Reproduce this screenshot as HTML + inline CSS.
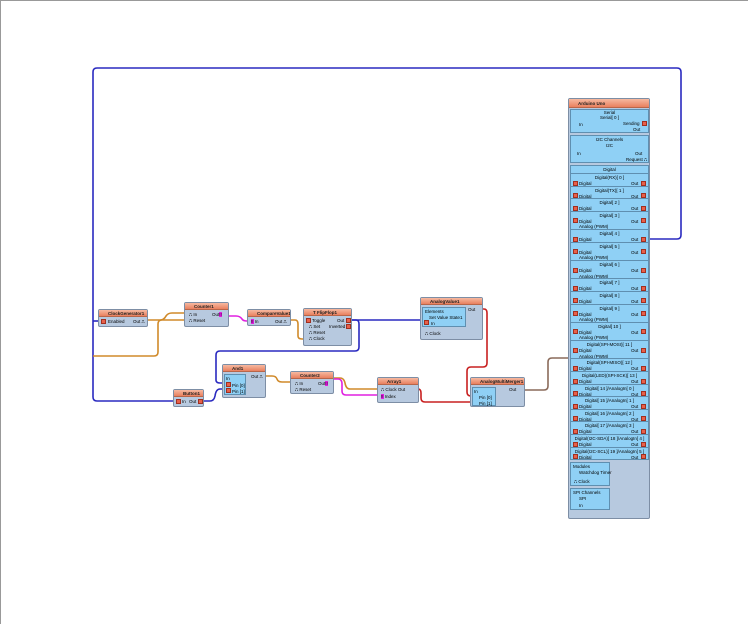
<!DOCTYPE html>
<html><head><meta charset="utf-8"><style>
*{margin:0;padding:0;box-sizing:border-box}
body{width:748px;height:624px;background:#fff;position:relative;overflow:hidden;font-family:"Liberation Sans",sans-serif;font-size:5px;color:#000}
.frame{position:absolute;left:0;top:0;width:748px;height:624px;border-top:1px solid #999;border-left:1px solid #999}
.n{position:absolute;background:#b7c9df;border:1px solid #7d8ea5;border-radius:2px}
.h{height:7px;background:linear-gradient(#f6b9a0,#e9805f);border-bottom:1px solid #b8664a;font-size:4.5px;line-height:7px;padding-left:9px;white-space:nowrap;overflow:hidden;font-weight:bold;color:#222}
.t{position:absolute;font-size:4.5px;white-space:nowrap;line-height:5px}
svg{position:absolute;left:0;top:0}
.ar{position:absolute;left:568px;top:98px;width:82px;height:421px;background:#b7c9df;border:1px solid #7d8ea5;border-radius:2px}
.sec{position:absolute;left:1px;width:79px;background:#8fd0f5;border:1px solid #5f8fb0}
.row{position:absolute;left:0;width:77px;border-top:1px solid #5f8fb0}
.ic{position:absolute;width:5px;height:5px;background:#e8604a;border:1px solid #a03020}
.ctr{position:absolute;left:0;width:77px;text-align:center;font-size:4.5px;line-height:5px;white-space:nowrap}
</style></head><body>
<div class="frame"></div>
<svg width="748" height="624" fill="none" stroke-width="1.6">
<path d="M650 239 H677 Q681 239 681 235 V72 Q681 68 677 68 H97 Q93 68 93 72 V397 Q93 401 97 401 H174" stroke="#2a2ac0"/>
<path d="M93 321 H99" stroke="#2a2ac0"/>
<path d="M148 320 H160 Q164 320 166 316 Q168 313 172 313 H186" stroke="#d08a2a"/>
<path d="M93 356 H154 Q158 356 158 352 V324 Q158 320 162 320 H186" stroke="#d08a2a"/>
<path d="M229 316 H236 Q240 316 242 319 Q243 321 247 321 H250" stroke="#e020e0"/>
<path d="M291 320 H295 Q298 320 298 324 V336 Q298 339 302 339 H305" stroke="#d08a2a"/>
<path d="M352 320 H424" stroke="#2a2ac0"/>
<path d="M352 320 H356 Q359 320 359 324 V347 Q359 351 355 351 H220 Q216 351 216 355 V380 Q216 383 220 383 H226" stroke="#2a2ac0"/>
<path d="M204 401 H210 Q214 401 215 396 Q216 389 220 389 H226" stroke="#2a2ac0"/>
<path d="M266 376 H272 Q276 376 277 379 Q278 382 282 382 H292" stroke="#d08a2a"/>
<path d="M334 378 H340 Q344 378 345 383 Q346 389 350 389 H379" stroke="#d08a2a"/>
<path d="M334 379 H338 Q342 379 342 384 V391 Q342 395 346 395 H379" stroke="#e020e0"/>
<path d="M414 389 H418 Q421 389 421 393 V398 Q421 402 425 402 H472" stroke="#c82020"/>
<path d="M483 309 H484 Q487 309 487 313 V363 Q487 367 483 367 H471 Q467 367 467 371 V392 Q467 396 471 396 H472" stroke="#c82020"/>
<path d="M525 390 H544 Q548 390 548 386 V362 Q548 358 552 358 H569" stroke="#8a6a5a"/>
</svg>

<div class="n" style="left:98px;top:309px;width:50px;height:18px"><div class="h">ClockGenerator1</div><div class="ic" style="left:2px;top:9px"></div><div class="t" style="left:9px;top:9px">Enabled</div><div class="t" style="left:34px;top:9px">Out ⎍</div></div>
<div class="n" style="left:184px;top:302px;width:45px;height:25px"><div class="h">Counter1</div><div class="t" style="left:4px;top:9px">⎍ In</div><div class="t" style="left:4px;top:15px">⎍ Reset</div><div class="t" style="left:27px;top:9px">Out<span style="background:#e020e0">!!</span></div></div>
<div class="n" style="left:247px;top:309px;width:44px;height:17px"><div class="h">CompareValue1</div><div class="t" style="left:3px;top:9px"><span style="background:#e020e0">!!</span> In</div><div class="t" style="left:27px;top:9px">Out ⎍</div></div>
<div class="n" style="left:303px;top:308px;width:49px;height:38px"><div class="h">T FlipFlop1</div><div class="ic" style="left:2px;top:9px"></div><div class="t" style="left:8px;top:9px">Toggle</div><div class="t" style="left:5px;top:15px">⎍ Set</div><div class="t" style="left:5px;top:21px">⎍ Reset</div><div class="t" style="left:5px;top:27px">⎍ Clock</div><div class="t" style="left:33px;top:9px">Out</div><div class="ic" style="left:42px;top:9px"></div><div class="t" style="left:25px;top:15px">Inverted</div><div class="ic" style="left:42px;top:15px"></div></div>
<div class="n" style="left:420px;top:297px;width:63px;height:43px"><div class="h">AnalogValue1</div><div class="t" style="left:47px;top:9px">Out</div><div style="position:absolute;left:1px;top:9px;width:44px;height:20px;background:#8fd0f5;border:1px solid #5f8fb0"><div class="t" style="left:2px;top:1px">Elements</div><div class="t" style="left:6px;top:7px">Set Value State1</div><div class="ic" style="left:1px;top:12px"></div><div class="t" style="left:8px;top:13px">In</div></div><div class="t" style="left:4px;top:33px">⎍ Clock</div></div>
<div class="n" style="left:222px;top:364px;width:44px;height:34px"><div class="h">And1</div><div class="t" style="left:28px;top:9px">Out ⎍</div><div style="position:absolute;left:1px;top:9px;width:22px;height:21px;background:#8fd0f5;border:1px solid #5f8fb0"><div class="t" style="left:1px;top:1px">In</div><div class="ic" style="left:1px;top:7px"></div><div class="t" style="left:7px;top:8px">Pin [0]</div><div class="ic" style="left:1px;top:13px"></div><div class="t" style="left:7px;top:14px">Pin [1]</div></div></div>
<div class="n" style="left:290px;top:371px;width:44px;height:23px"><div class="h">Counter2</div><div class="t" style="left:4px;top:9px">⎍ In</div><div class="t" style="left:4px;top:15px">⎍ Reset</div><div class="t" style="left:27px;top:9px">Out<span style="background:#e020e0">!!</span></div></div>
<div class="n" style="left:173px;top:389px;width:31px;height:18px"><div class="h">Button1</div><div class="ic" style="left:2px;top:9px"></div><div class="t" style="left:8px;top:9px">In</div><div class="t" style="left:15px;top:9px">Out</div><div class="ic" style="left:24px;top:9px"></div></div>
<div class="n" style="left:377px;top:377px;width:42px;height:26px"><div class="h">Array1</div><div class="t" style="left:3px;top:9px">⎍ Clock Out</div><div class="t" style="left:3px;top:16px"><span style="background:#e020e0">!!</span> Index</div></div>
<div class="n" style="left:470px;top:377px;width:55px;height:30px"><div class="h">AnalogMultiMerger1</div><div class="t" style="left:38px;top:9px">Out</div><div style="position:absolute;left:1px;top:9px;width:24px;height:19px;background:#8fd0f5;border:1px solid #5f8fb0"><div class="t" style="left:1px;top:1px">In</div><div class="t" style="left:6px;top:7px">Pin [0]</div><div class="t" style="left:6px;top:13px">Pin [1]</div></div></div>

<div class="ar">
<div class="h" style="height:9px;line-height:9px">Arduino Uno</div>
<div class="sec" style="top:10px;height:24px"><div class="ctr" style="top:0">Serial</div><div class="ctr" style="top:5px">Serial[ 0 ]</div><div class="t" style="left:8px;top:12px">In</div><div class="t" style="left:52px;top:11px">Sending</div><div class="ic" style="left:71px;top:11px"></div><div class="t" style="left:62px;top:17px">Out</div></div>
<div class="sec" style="top:36px;height:28px"><div class="ctr" style="top:1px">I2C Channels</div><div class="ctr" style="top:7px">I2C</div><div class="t" style="left:6px;top:15px">In</div><div class="t" style="left:64px;top:15px">Out</div><div class="t" style="left:55px;top:21px">Request ⎍</div></div>
<div class="sec" style="top:66px;height:295px;overflow:hidden">
<div class="ctr" style="top:1px">Digital</div>
<div id="rows"></div>
</div>
<div class="sec" style="top:363px;height:24px;width:40px"><div class="t" style="left:2px;top:1px">Modules</div><div class="t" style="left:8px;top:7px">Watchdog Timer</div><div class="t" style="left:3px;top:16px">⎍ Clock</div></div>
<div class="sec" style="top:389px;height:22px;width:40px"><div class="t" style="left:2px;top:1px">SPI Channels</div><div class="t" style="left:8px;top:7px">SPI</div><div class="t" style="left:8px;top:14px">In</div></div>
</div>
<script>
var names=["Digital(RX)[ 0 ]","Digital(TX)[ 1 ]","Digital[ 2 ]","Digital[ 3 ]","Digital[ 4 ]","Digital[ 5 ]","Digital[ 6 ]","Digital[ 7 ]","Digital[ 8 ]","Digital[ 9 ]","Digital[ 10 ]","Digital(SPI-MOSI)[ 11 ]","Digital(SPI-MISO)[ 12 ]","Digital(LED)(SPI-SCK)[ 13 ]","Digital[ 14 ]/AnalogIn[ 0 ]","Digital[ 15 ]/AnalogIn[ 1 ]","Digital[ 16 ]/AnalogIn[ 2 ]","Digital[ 17 ]/AnalogIn[ 3 ]","Digital(I2C-SDA)[ 18 ]/AnalogIn[ 4 ]","Digital(I2C-SCL)[ 19 ]/AnalogIn[ 5 ]"];
var dbl=[3,5,6,9,10,11];var y=7,h="";
for(var i=0;i<20;i++){var d=dbl.indexOf(i)>=0;var hh=d?18.3:12.6;
h+='<div class="row" style="top:'+y+'px;height:'+hh+'px"><div class="ctr" style="top:1px">'+names[i]+'</div><div class="ic" style="left:2px;top:6.5px"></div><div class="t" style="left:8px;top:7px">Digital</div><div class="t" style="left:60px;top:7px">Out</div><div class="ic" style="left:70px;top:6.5px"></div>'+(d?'<div class="t" style="left:8px;top:12.5px">Analog (PWM)</div>':'')+'</div>';y+=hh;}
document.getElementById('rows').innerHTML=h;
</script>
</body></html>
